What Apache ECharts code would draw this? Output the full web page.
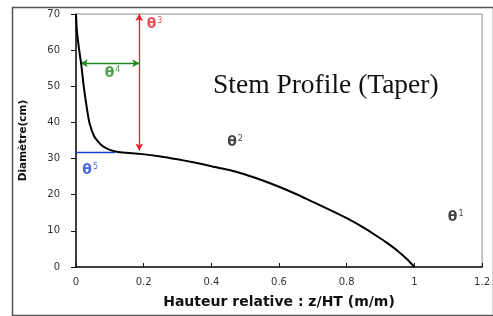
<!DOCTYPE html>
<html><head><meta charset="utf-8">
<script src="https://cdn.jsdelivr.net/npm/echarts@6/dist/echarts.min.js"></script>
<style>html,body{margin:0;padding:0;background:#fff}#c{width:493px;height:316px}</style>
</head><body><div id="c"></div>
<script>
// Stem profile curve (relative height vs diameter)
const relHeight = [0, 0.003, 0.010, 0.015, 0.023, 0.033, 0.040, 0.054, 0.070, 0.081, 0.10, 0.12, 0.15, 0.19, 0.25, 0.30, 0.35, 0.40, 0.45, 0.50, 0.55, 0.60, 0.65, 0.70, 0.75, 0.80, 0.85, 0.89, 0.92, 0.95, 0.98, 1.0];
const diameter  = [70, 65, 59.6, 56.4, 49.9, 43.4, 39.8, 36.1, 34.2, 33.3, 32.4, 31.9, 31.6, 31.3, 30.6, 29.8, 28.9, 27.9, 26.9, 25.6, 24.0, 22.2, 20.2, 18.0, 15.8, 13.5, 10.9, 8.5, 6.6, 4.5, 2.0, 0];
// Annotation parameters
const theta3Line = [[0.187, 70], [0.187, 32.2]];
const theta4Line = [[0.014, 56.4], [0.187, 56.4]];
const theta5Line = [[0, 31.8], [0.115, 31.8]];
const thetaLabels = [
  {name: '3', x: 0.232, y: 67.2, color: '#e0202a'},
  {name: '4', x: 0.108, y: 53.6, color: '#1e8a1e'},
  {name: '5', x: 0.042, y: 26.8, color: '#1a3fd0'},
  {name: '2', x: 0.470, y: 34.6, color: '#111'},
  {name: '1', x: 1.122, y: 13.8, color: '#111'}
];
const xTicks = {min: 0, max: 1.2, interval: 0.2};
const yTicks = {min: 0, max: 70, interval: 10};

const chart = echarts.init(document.getElementById('c'));
const curve = relHeight.map((x, i) => [x, diameter[i]]);
function seg(line, color, arrows) {
  return {
    type: 'line', data: [], silent: true,
    markLine: {
      silent: true, animation: false,
      symbol: arrows ? ['arrow', 'arrow'] : ['none', 'none'],
      symbolSize: [6, 7],
      label: {show: false},
      lineStyle: {color: color, width: 1.3, type: 'solid'},
      data: [[{coord: line[0]}, {coord: line[1]}]]
    }
  };
}
chart.setOption({
  animation: false,
  graphic: [{type: 'rect', left: 10, top: 5, shape: {width: 481, height: 308},
    style: {fill: 'none', stroke: '#555', lineWidth: 1.5}, z: 100}],
  title: {text: 'Stem Profile (Taper)', left: 208, top: 67,
    textStyle: {fontFamily: 'Liberation Serif', fontSize: 27.5, fontWeight: 'normal', color: '#111'}},
  grid: {left: 76, right: 7, top: 14, bottom: 49, show: true, borderColor: '#888', borderWidth: 1},
  xAxis: {type: 'value', min: xTicks.min, max: xTicks.max, interval: xTicks.interval,
    name: 'Hauteur relative : z/HT (m/m)', nameLocation: 'middle', nameGap: 28,
    nameTextStyle: {fontFamily: 'DejaVu Sans', fontSize: 14, fontWeight: 'bold', color: '#111'},
    splitLine: {show: false},
    axisLine: {lineStyle: {color: '#111', width: 1.5}},
    axisTick: {inside: true, length: 4, lineStyle: {color: '#111'}},
    axisLabel: {fontFamily: 'DejaVu Sans', fontSize: 10, color: '#333', margin: 10}},
  yAxis: {type: 'value', min: yTicks.min, max: yTicks.max, interval: yTicks.interval,
    name: 'Diamètre(cm)', nameLocation: 'middle', nameGap: 47, nameRotate: 90,
    nameTextStyle: {fontFamily: 'DejaVu Sans', fontSize: 10.5, fontWeight: 'bold', color: '#111'},
    splitLine: {show: false},
    axisLine: {lineStyle: {color: '#111', width: 1.5}},
    axisTick: {length: 5, lineStyle: {color: '#111'}},
    axisLabel: {fontFamily: 'DejaVu Sans', fontSize: 10, color: '#333', margin: 16}},
  series: [
    {type: 'line', data: curve, showSymbol: false, smooth: 0.25, lineStyle: {color: '#000', width: 2}, z: 5},
    seg(theta3Line, '#e0202a', true),
    seg(theta4Line, '#1e8a1e', true),
    seg(theta5Line, '#1a3fd0', false),
    {type: 'scatter', symbolSize: 0, z: 10,
      data: thetaLabels.map(d => ({value: [d.x, d.y], name: d.name,
        label: {show: true, position: 'inside', formatter: '{t|θ}{s|' + d.name + '}',
          rich: {t: {fontFamily: 'DejaVu Sans', fontWeight: 'bold', fontSize: 14, color: d.color},
                 s: {fontFamily: 'DejaVu Sans', fontSize: 8, color: d.color, verticalAlign: 'top', padding: [0, 0, 6, 1]}}}}))}
  ]
});
</script></body></html>
